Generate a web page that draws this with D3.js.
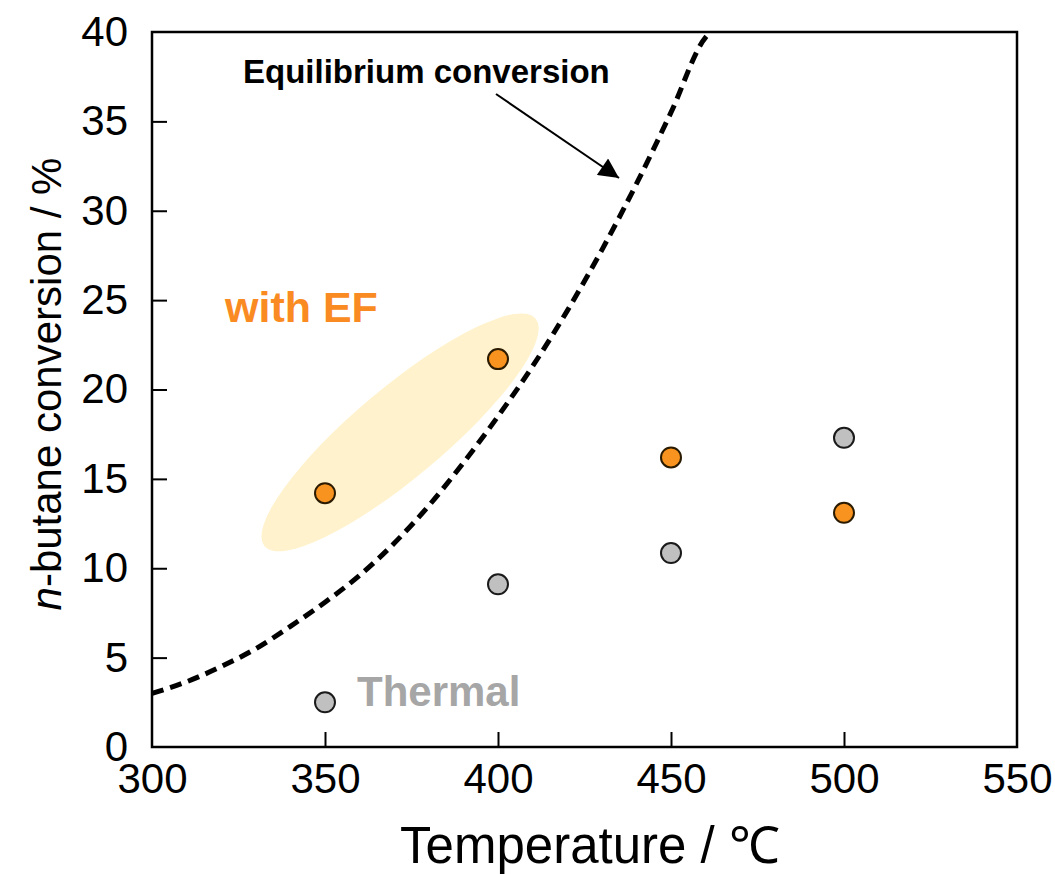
<!DOCTYPE html>
<html>
<head>
<meta charset="utf-8">
<script src="https://cdn.jsdelivr.net/npm/d3@7"></script>
<style>
  body { margin: 0; background: #fff; }
  text { font-family: "Liberation Sans", Arial, sans-serif; }
</style>
</head>
<body>
<div class="chart"></div>
<script>
// measured points
var temps = [350, 400, 450, 500]
var withEF = [14.2, 21.7, 16.2, 13.1]
var thermal = [2.5, 9.1, 10.85, 17.3]

// equilibrium curve
var eqT = [300, 310, 320, 330, 340, 350, 360, 370, 380, 390, 400, 410, 420, 430, 440, 450, 460, 461.5]
var eqConv = [3.0, 3.65, 4.5, 5.5, 6.75, 8.1, 9.6, 11.4, 13.5, 15.9, 18.5, 21.3, 24.4, 27.8, 31.5, 35.5, 39.7, 40]

var xTicks = [300, 350, 400, 450, 500, 550]
var yTicks = [0, 5, 10, 15, 20, 25, 30, 35, 40]

document.addEventListener("DOMContentLoaded", draw)

function draw() {
  var width = 1055,
    height = 874,
    left = 152, top = 32, right = 1017, bottom = 747

  var svg = d3.select(".chart").append("svg")
    .attr("width", width)
    .attr("height", height)

  var x = d3.scaleLinear().domain([300, 550]).range([left, right])
  var y = d3.scaleLinear().domain([0, 40]).range([bottom, top])

  // shaded ellipse around the EF points
  svg.append("ellipse")
    .attr("transform", `translate(${x(371.7)},${y(17.6)}) rotate(-40)`)
    .attr("rx", 177)
    .attr("ry", 45)
    .attr("fill", "#fff2cc")

  // equilibrium curve
  var line = d3.line()
    .x((d, i) => x(eqT[i]))
    .y(d => y(d))
    .curve(d3.curveMonotoneX)

  svg.append("path")
    .datum(eqConv)
    .attr("d", line)
    .attr("fill", "none")
    .attr("stroke", "#000")
    .attr("stroke-width", 5)
    .attr("stroke-dasharray", "12,7")

  // axes, ticks inward
  var xAxis = d3.axisBottom(x).tickValues(xTicks).tickSize(-15).tickPadding(16)
  var yAxis = d3.axisLeft(y).tickValues(yTicks).tickSize(-15).tickPadding(24)

  var gx = svg.append("g").attr("transform", `translate(0,${bottom})`).call(xAxis)
  var gy = svg.append("g").attr("transform", `translate(${left},0)`).call(yAxis)

  gx.select(".domain").remove()
  gy.select(".domain").remove()
  gx.selectAll(".tick line").attr("stroke-width", 2)
    .attr("display", d => (d === 300 || d === 550) ? "none" : null)
  gy.selectAll(".tick line").attr("stroke-width", 2)
    .attr("display", d => (d === 0 || d === 40) ? "none" : null)
  gx.selectAll(".tick text")
    .attr("font-size", 42)
    .attr("font-family", "Liberation Sans, Arial, sans-serif")
    .attr("fill", "#000")
  gy.selectAll(".tick text")
    .attr("font-size", 42)
    .attr("font-family", "Liberation Sans, Arial, sans-serif")
    .attr("fill", "#000")

  svg.append("rect")
    .attr("x", left).attr("y", top)
    .attr("width", right - left).attr("height", bottom - top)
    .attr("fill", "none")
    .attr("stroke", "#000")
    .attr("stroke-width", 2.5)

  // points
  svg.append("g").selectAll("circle")
    .data(thermal)
    .enter().append("circle")
    .attr("cx", (d, i) => x(temps[i]))
    .attr("cy", d => y(d))
    .attr("r", 10)
    .attr("fill", "#c0c0c0")
    .attr("stroke", "#1a1a1a")
    .attr("stroke-width", 2)

  svg.append("g").selectAll("circle")
    .data(withEF)
    .enter().append("circle")
    .attr("cx", (d, i) => x(temps[i]))
    .attr("cy", d => y(d))
    .attr("r", 10)
    .attr("fill", "#f7931e")
    .attr("stroke", "#2a1a00")
    .attr("stroke-width", 2)

  // labels
  svg.append("text")
    .attr("x", 225).attr("y", 322)
    .attr("font-size", 43).attr("font-weight", "bold")
    .attr("fill", "#f98b22")
    .text("with EF")

  svg.append("text")
    .attr("x", 357).attr("y", 706)
    .attr("font-size", 42).attr("font-weight", "bold")
    .attr("fill", "#a6a6a6")
    .text("Thermal")

  svg.append("text")
    .attr("x", 243).attr("y", 83)
    .attr("font-size", 33).attr("font-weight", "bold")
    .attr("fill", "#000")
    .text("Equilibrium conversion")

  svg.append("defs").append("marker")
    .attr("id", "head")
    .attr("viewBox", "0 0 10 10")
    .attr("refX", 10).attr("refY", 5)
    .attr("markerWidth", 26).attr("markerHeight", 20)
    .attr("markerUnits", "userSpaceOnUse")
    .attr("orient", "auto")
    .append("path")
    .attr("d", "M0,0L10,5L0,10Z")
    .attr("fill", "#000")

  svg.append("line")
    .attr("x1", 496).attr("y1", 94)
    .attr("x2", 619).attr("y2", 178)
    .attr("stroke", "#000")
    .attr("stroke-width", 2)
    .attr("marker-end", "url(#head)")

  // axis titles
  svg.append("text")
    .attr("x", 590).attr("y", 863)
    .attr("text-anchor", "middle")
    .attr("font-size", 51)
    .attr("fill", "#000")
    .text("Temperature / ℃")

  var yl = svg.append("text")
    .attr("transform", `translate(61,384) rotate(-90)`)
    .attr("text-anchor", "middle")
    .attr("font-size", 42)
    .attr("fill", "#000")
  yl.append("tspan").attr("font-style", "italic").text("n")
  yl.append("tspan").text("-butane conversion / %")
}
</script>
</body>
</html>
